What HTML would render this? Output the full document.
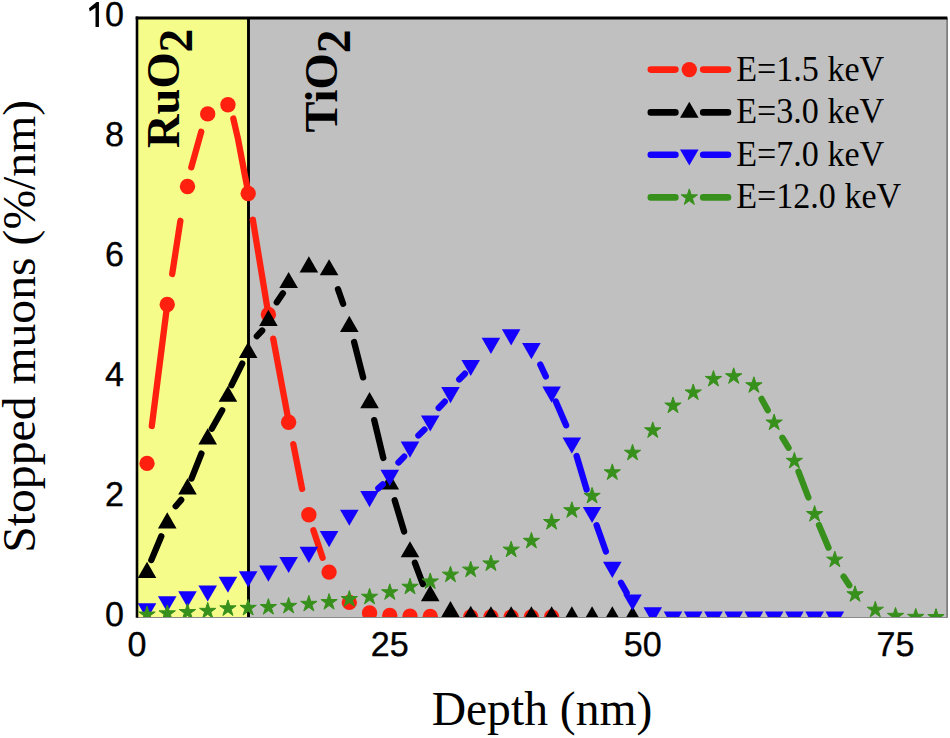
<!DOCTYPE html>
<html><head><meta charset="utf-8"><title>Stopped muons vs depth</title>
<style>
html,body{margin:0;padding:0;background:#fff;}
body{width:950px;height:738px;overflow:hidden;position:relative;font-family:"Liberation Sans",sans-serif;}
svg text{white-space:pre;}
</style></head><body>
<svg width="950" height="738" viewBox="0 0 950 738" style="position:absolute;left:0;top:0">
<defs><clipPath id="pc"><rect x="137" y="17.9" width="809.6" height="599.4"/></clipPath></defs>
<rect x="137" y="17.9" width="809.6" height="599.4" fill="#c0c0c0"/>
<rect x="137" y="17.9" width="111.4" height="599.4" fill="#f5fc8a"/>
<line x1="248.5" y1="17.9" x2="248.5" y2="617.8" stroke="#000" stroke-width="2.9"/>
<g clip-path="url(#pc)">
<path d="M151.8 426L166.8 308M172.2 274L180.4 220.8M191.3 167.3L201.2 131.8M233.3 118.5L238 138.9L244.7 174.3L247.8 190M252.8 219.6L268 312M273.2 338.7L288.4 420M293.3 444.2L302.1 488.9M313.4 530.2L322.6 557.8" fill="none" stroke="#ff2010" stroke-width="6.3" stroke-linecap="round" stroke-linejoin="round"/>
<circle cx="147.02" cy="463.4" r="7.7" fill="#ff2010"/>
<circle cx="167.25" cy="304.5" r="7.7" fill="#ff2010"/>
<circle cx="187.48" cy="186.5" r="7.7" fill="#ff2010"/>
<circle cx="207.71" cy="113.9" r="7.7" fill="#ff2010"/>
<circle cx="227.94" cy="104.7" r="7.7" fill="#ff2010"/>
<circle cx="248.17" cy="193.5" r="7.7" fill="#ff2010"/>
<circle cx="268.39" cy="314.5" r="7.7" fill="#ff2010"/>
<circle cx="288.62" cy="422.2" r="7.7" fill="#ff2010"/>
<circle cx="308.86" cy="514.7" r="7.7" fill="#ff2010"/>
<circle cx="329.09" cy="572.1" r="7.7" fill="#ff2010"/>
<circle cx="349.31" cy="602.4" r="7.7" fill="#ff2010"/>
<circle cx="369.55" cy="612.9" r="7.7" fill="#ff2010"/>
<circle cx="389.77" cy="615.4" r="7.7" fill="#ff2010"/>
<circle cx="410" cy="616.3" r="7.7" fill="#ff2010"/>
<circle cx="430.24" cy="616.5" r="7.7" fill="#ff2010"/>
<circle cx="450.47" cy="616.8" r="7.7" fill="#ff2010"/>
<circle cx="470.7" cy="617" r="7.7" fill="#ff2010"/>
<circle cx="490.93" cy="617" r="7.7" fill="#ff2010"/>
<circle cx="511.15" cy="617" r="7.7" fill="#ff2010"/>
<circle cx="531.38" cy="617" r="7.7" fill="#ff2010"/>
<circle cx="551.62" cy="617" r="7.7" fill="#ff2010"/>
<path d="M151.3 560.1L161.3 536.3M175.7 506.2L181.2 499.9M191.5 478.6L201.4 453.6M211.8 428.7L222.2 410.3M231.4 385.3L242.2 363.6M256.9 336.1L262.2 330.5M276.8 302.3L282.9 293.3M338 289.2L343.1 303.8M354.1 342L363.1 377.4M374.2 420.1L383.3 458M394.7 500.3L404.1 531.5M414.9 562.8L422.9 584.1" fill="none" stroke="#000000" stroke-width="6.3" stroke-linecap="round" stroke-linejoin="round"/>
<path d="M147.02 561.75L156.32 577.88L137.71 577.88Z" fill="#000000"/>
<path d="M167.25 512.35L176.55 528.48L157.94 528.48Z" fill="#000000"/>
<path d="M187.48 478.35L196.78 494.48L178.17 494.48Z" fill="#000000"/>
<path d="M207.71 428.35L217.01 444.48L198.4 444.48Z" fill="#000000"/>
<path d="M227.94 385.65L237.24 401.77L218.63 401.77Z" fill="#000000"/>
<path d="M248.17 341.85L257.47 357.98L238.86 357.98Z" fill="#000000"/>
<path d="M268.39 309.85L277.7 325.98L259.09 325.98Z" fill="#000000"/>
<path d="M288.62 271.95L297.93 288.07L279.32 288.07Z" fill="#000000"/>
<path d="M308.86 256.35L318.16 272.48L299.55 272.48Z" fill="#000000"/>
<path d="M329.09 259.15L338.39 275.27L319.78 275.27Z" fill="#000000"/>
<path d="M349.31 315.85L358.62 331.98L340.01 331.98Z" fill="#000000"/>
<path d="M369.55 392.05L378.85 408.18L360.24 408.18Z" fill="#000000"/>
<path d="M389.77 473.35L399.08 489.48L380.47 489.48Z" fill="#000000"/>
<path d="M410 541.15L419.31 557.27L400.7 557.27Z" fill="#000000"/>
<path d="M430.24 585.05L439.54 601.17L420.93 601.17Z" fill="#000000"/>
<path d="M450.47 601.05L459.77 617.17L441.16 617.17Z" fill="#000000"/>
<path d="M470.7 605.85L480 621.98L461.39 621.98Z" fill="#000000"/>
<path d="M490.93 606.25L500.23 622.38L481.62 622.38Z" fill="#000000"/>
<path d="M511.15 606.25L520.46 622.38L501.85 622.38Z" fill="#000000"/>
<path d="M531.38 606.25L540.69 622.38L522.08 622.38Z" fill="#000000"/>
<path d="M551.62 606.25L560.92 622.38L542.31 622.38Z" fill="#000000"/>
<path d="M571.85 606.25L581.15 622.38L562.54 622.38Z" fill="#000000"/>
<path d="M592.08 606.25L601.38 622.38L582.77 622.38Z" fill="#000000"/>
<path d="M612.31 606.25L621.61 622.38L603 622.38Z" fill="#000000"/>
<path d="M632.53 606.25L641.84 622.38L623.23 622.38Z" fill="#000000"/>
<path d="M378.3 488.4L382.8 484.3M398.5 462.5L404.2 456.6M418.4 435.5L424.5 429.6M438.7 408L444.8 401.6M459.2 379.5L464.9 373.7M540.3 364.6L545.8 376.4M555.8 401.5L566.1 425.3M576.6 456L586.6 489.5M596.6 525.2L605.9 551.5M621 582.8L626.7 592.9" fill="none" stroke="#1400ff" stroke-width="6.3" stroke-linecap="round" stroke-linejoin="round"/>
<path d="M147.02 619.35L156.32 603.23L137.71 603.23Z" fill="#1400ff"/>
<path d="M167.25 612.35L176.55 596.23L157.94 596.23Z" fill="#1400ff"/>
<path d="M187.48 607.35L196.78 591.23L178.17 591.23Z" fill="#1400ff"/>
<path d="M207.71 601.55L217.01 585.42L198.4 585.42Z" fill="#1400ff"/>
<path d="M227.94 592.85L237.24 576.73L218.63 576.73Z" fill="#1400ff"/>
<path d="M248.17 587.35L257.47 571.23L238.86 571.23Z" fill="#1400ff"/>
<path d="M268.39 581.75L277.7 565.62L259.09 565.62Z" fill="#1400ff"/>
<path d="M288.62 573.05L297.93 556.92L279.32 556.92Z" fill="#1400ff"/>
<path d="M308.86 562.95L318.16 546.83L299.55 546.83Z" fill="#1400ff"/>
<path d="M329.09 547.25L338.39 531.12L319.78 531.12Z" fill="#1400ff"/>
<path d="M349.31 525.85L358.62 509.73L340.01 509.73Z" fill="#1400ff"/>
<path d="M369.55 507.25L378.85 491.12L360.24 491.12Z" fill="#1400ff"/>
<path d="M389.77 485.95L399.08 469.82L380.47 469.82Z" fill="#1400ff"/>
<path d="M410 457.75L419.31 441.62L400.7 441.62Z" fill="#1400ff"/>
<path d="M430.24 431.55L439.54 415.43L420.93 415.43Z" fill="#1400ff"/>
<path d="M450.47 403.15L459.77 387.02L441.16 387.02Z" fill="#1400ff"/>
<path d="M470.7 376.05L480 359.93L461.39 359.93Z" fill="#1400ff"/>
<path d="M490.93 353.95L500.23 337.82L481.62 337.82Z" fill="#1400ff"/>
<path d="M511.15 345.45L520.46 329.32L501.85 329.32Z" fill="#1400ff"/>
<path d="M531.38 359.25L540.69 343.12L522.08 343.12Z" fill="#1400ff"/>
<path d="M551.62 402.65L560.92 386.52L542.31 386.52Z" fill="#1400ff"/>
<path d="M571.85 453.75L581.15 437.62L562.54 437.62Z" fill="#1400ff"/>
<path d="M592.08 523.05L601.38 506.92L582.77 506.92Z" fill="#1400ff"/>
<path d="M612.31 577.95L621.61 561.83L603 561.83Z" fill="#1400ff"/>
<path d="M632.53 610.55L641.84 594.42L623.23 594.42Z" fill="#1400ff"/>
<path d="M652.76 623.35L662.07 607.23L643.46 607.23Z" fill="#1400ff"/>
<path d="M673 627.75L682.3 611.62L663.69 611.62Z" fill="#1400ff"/>
<path d="M693.23 627.75L702.53 611.62L683.92 611.62Z" fill="#1400ff"/>
<path d="M713.46 627.75L722.76 611.62L704.15 611.62Z" fill="#1400ff"/>
<path d="M733.68 627.75L742.99 611.62L724.38 611.62Z" fill="#1400ff"/>
<path d="M753.91 627.75L763.22 611.62L744.61 611.62Z" fill="#1400ff"/>
<path d="M774.14 627.75L783.45 611.62L764.84 611.62Z" fill="#1400ff"/>
<path d="M794.38 627.75L803.68 611.62L785.07 611.62Z" fill="#1400ff"/>
<path d="M814.61 627.75L823.91 611.62L805.3 611.62Z" fill="#1400ff"/>
<path d="M834.84 627.75L844.14 611.62L825.53 611.62Z" fill="#1400ff"/>
<path d="M761.6 398.9L767.8 410.2M782.4 437.7L788.6 447.8M798.5 471.6L808.4 497.5M819 525.1L828.5 547.7M843.6 576.6L849.3 585.3" fill="none" stroke="#38901c" stroke-width="6.3" stroke-linecap="round" stroke-linejoin="round"/>
<path d="M147.02 606.1L148.95 612.04L155.19 612.04L150.14 615.72L152.07 621.66L147.02 617.99L141.96 621.66L143.89 615.72L138.84 612.04L145.08 612.04Z" fill="#38901c" stroke="#38901c" stroke-width="1" stroke-linejoin="round"/>
<path d="M167.25 604.9L169.18 610.84L175.42 610.84L170.37 614.52L172.3 620.46L167.25 616.79L162.19 620.46L164.12 614.52L159.07 610.84L165.31 610.84Z" fill="#38901c" stroke="#38901c" stroke-width="1" stroke-linejoin="round"/>
<path d="M187.48 603.6L189.41 609.54L195.65 609.54L190.6 613.22L192.53 619.16L187.48 615.49L182.42 619.16L184.35 613.22L179.3 609.54L185.54 609.54Z" fill="#38901c" stroke="#38901c" stroke-width="1" stroke-linejoin="round"/>
<path d="M207.71 602.4L209.64 608.34L215.88 608.34L210.83 612.02L212.76 617.96L207.71 614.29L202.65 617.96L204.58 612.02L199.53 608.34L205.77 608.34Z" fill="#38901c" stroke="#38901c" stroke-width="1" stroke-linejoin="round"/>
<path d="M227.94 599.9L229.87 605.84L236.11 605.84L231.06 609.52L232.99 615.46L227.94 611.79L222.88 615.46L224.81 609.52L219.76 605.84L226 605.84Z" fill="#38901c" stroke="#38901c" stroke-width="1" stroke-linejoin="round"/>
<path d="M248.17 599.4L250.1 605.34L256.34 605.34L251.29 609.02L253.22 614.96L248.17 611.29L243.11 614.96L245.04 609.02L239.99 605.34L246.23 605.34Z" fill="#38901c" stroke="#38901c" stroke-width="1" stroke-linejoin="round"/>
<path d="M268.39 598.6L270.33 604.54L276.57 604.54L271.52 608.22L273.45 614.16L268.39 610.49L263.34 614.16L265.27 608.22L260.22 604.54L266.46 604.54Z" fill="#38901c" stroke="#38901c" stroke-width="1" stroke-linejoin="round"/>
<path d="M288.62 597.4L290.56 603.34L296.8 603.34L291.75 607.02L293.68 612.96L288.62 609.29L283.57 612.96L285.5 607.02L280.45 603.34L286.69 603.34Z" fill="#38901c" stroke="#38901c" stroke-width="1" stroke-linejoin="round"/>
<path d="M308.86 595.4L310.79 601.34L317.03 601.34L311.98 605.02L313.91 610.96L308.86 607.29L303.8 610.96L305.73 605.02L300.68 601.34L306.92 601.34Z" fill="#38901c" stroke="#38901c" stroke-width="1" stroke-linejoin="round"/>
<path d="M329.09 593.6L331.02 599.54L337.26 599.54L332.21 603.22L334.14 609.16L329.09 605.49L324.03 609.16L325.96 603.22L320.91 599.54L327.15 599.54Z" fill="#38901c" stroke="#38901c" stroke-width="1" stroke-linejoin="round"/>
<path d="M349.31 590.6L351.25 596.54L357.49 596.54L352.44 600.22L354.37 606.16L349.31 602.49L344.26 606.16L346.19 600.22L341.14 596.54L347.38 596.54Z" fill="#38901c" stroke="#38901c" stroke-width="1" stroke-linejoin="round"/>
<path d="M369.55 588.3L371.48 594.24L377.72 594.24L372.67 597.92L374.6 603.86L369.55 600.19L364.49 603.86L366.42 597.92L361.37 594.24L367.61 594.24Z" fill="#38901c" stroke="#38901c" stroke-width="1" stroke-linejoin="round"/>
<path d="M389.77 583.8L391.71 589.74L397.95 589.74L392.9 593.42L394.83 599.36L389.77 595.69L384.72 599.36L386.65 593.42L381.6 589.74L387.84 589.74Z" fill="#38901c" stroke="#38901c" stroke-width="1" stroke-linejoin="round"/>
<path d="M410 578.3L411.94 584.24L418.18 584.24L413.13 587.92L415.06 593.86L410 590.19L404.95 593.86L406.88 587.92L401.83 584.24L408.07 584.24Z" fill="#38901c" stroke="#38901c" stroke-width="1" stroke-linejoin="round"/>
<path d="M430.24 573L432.17 578.94L438.41 578.94L433.36 582.62L435.29 588.56L430.24 584.89L425.18 588.56L427.11 582.62L422.06 578.94L428.3 578.94Z" fill="#38901c" stroke="#38901c" stroke-width="1" stroke-linejoin="round"/>
<path d="M450.47 566.2L452.4 572.14L458.64 572.14L453.59 575.82L455.52 581.76L450.47 578.09L445.41 581.76L447.34 575.82L442.29 572.14L448.53 572.14Z" fill="#38901c" stroke="#38901c" stroke-width="1" stroke-linejoin="round"/>
<path d="M470.7 561.2L472.63 567.14L478.87 567.14L473.82 570.82L475.75 576.76L470.7 573.09L465.64 576.76L467.57 570.82L462.52 567.14L468.76 567.14Z" fill="#38901c" stroke="#38901c" stroke-width="1" stroke-linejoin="round"/>
<path d="M490.93 555L492.86 560.94L499.1 560.94L494.05 564.62L495.98 570.56L490.93 566.89L485.87 570.56L487.8 564.62L482.75 560.94L488.99 560.94Z" fill="#38901c" stroke="#38901c" stroke-width="1" stroke-linejoin="round"/>
<path d="M511.15 541.2L513.09 547.14L519.33 547.14L514.28 550.82L516.21 556.76L511.15 553.09L506.1 556.76L508.03 550.82L502.98 547.14L509.22 547.14Z" fill="#38901c" stroke="#38901c" stroke-width="1" stroke-linejoin="round"/>
<path d="M531.38 532.4L533.32 538.34L539.56 538.34L534.51 542.02L536.44 547.96L531.38 544.29L526.33 547.96L528.26 542.02L523.21 538.34L529.45 538.34Z" fill="#38901c" stroke="#38901c" stroke-width="1" stroke-linejoin="round"/>
<path d="M551.62 513.6L553.55 519.54L559.79 519.54L554.74 523.22L556.67 529.16L551.62 525.49L546.56 529.16L548.49 523.22L543.44 519.54L549.68 519.54Z" fill="#38901c" stroke="#38901c" stroke-width="1" stroke-linejoin="round"/>
<path d="M571.85 501.8L573.78 507.74L580.02 507.74L574.97 511.42L576.9 517.36L571.85 513.69L566.79 517.36L568.72 511.42L563.67 507.74L569.91 507.74Z" fill="#38901c" stroke="#38901c" stroke-width="1" stroke-linejoin="round"/>
<path d="M592.08 487.4L594.01 493.34L600.25 493.34L595.2 497.02L597.13 502.96L592.08 499.29L587.02 502.96L588.95 497.02L583.9 493.34L590.14 493.34Z" fill="#38901c" stroke="#38901c" stroke-width="1" stroke-linejoin="round"/>
<path d="M612.31 463.9L614.24 469.84L620.48 469.84L615.43 473.52L617.36 479.46L612.31 475.79L607.25 479.46L609.18 473.52L604.13 469.84L610.37 469.84Z" fill="#38901c" stroke="#38901c" stroke-width="1" stroke-linejoin="round"/>
<path d="M632.53 444.3L634.47 450.24L640.71 450.24L635.66 453.92L637.59 459.86L632.53 456.19L627.48 459.86L629.41 453.92L624.36 450.24L630.6 450.24Z" fill="#38901c" stroke="#38901c" stroke-width="1" stroke-linejoin="round"/>
<path d="M652.76 421.9L654.7 427.84L660.94 427.84L655.89 431.52L657.82 437.46L652.76 433.79L647.71 437.46L649.64 431.52L644.59 427.84L650.83 427.84Z" fill="#38901c" stroke="#38901c" stroke-width="1" stroke-linejoin="round"/>
<path d="M673 397.1L674.93 403.04L681.17 403.04L676.12 406.72L678.05 412.66L673 408.99L667.94 412.66L669.87 406.72L664.82 403.04L671.06 403.04Z" fill="#38901c" stroke="#38901c" stroke-width="1" stroke-linejoin="round"/>
<path d="M693.23 384L695.16 389.94L701.4 389.94L696.35 393.62L698.28 399.56L693.23 395.89L688.17 399.56L690.1 393.62L685.05 389.94L691.29 389.94Z" fill="#38901c" stroke="#38901c" stroke-width="1" stroke-linejoin="round"/>
<path d="M713.46 370.5L715.39 376.44L721.63 376.44L716.58 380.12L718.51 386.06L713.46 382.39L708.4 386.06L710.33 380.12L705.28 376.44L711.52 376.44Z" fill="#38901c" stroke="#38901c" stroke-width="1" stroke-linejoin="round"/>
<path d="M733.68 367.8L735.62 373.74L741.86 373.74L736.81 377.42L738.74 383.36L733.68 379.69L728.63 383.36L730.56 377.42L725.51 373.74L731.75 373.74Z" fill="#38901c" stroke="#38901c" stroke-width="1" stroke-linejoin="round"/>
<path d="M753.91 376.8L755.85 382.74L762.09 382.74L757.04 386.42L758.97 392.36L753.91 388.69L748.86 392.36L750.79 386.42L745.74 382.74L751.98 382.74Z" fill="#38901c" stroke="#38901c" stroke-width="1" stroke-linejoin="round"/>
<path d="M774.14 414.1L776.08 420.04L782.32 420.04L777.27 423.72L779.2 429.66L774.14 425.99L769.09 429.66L771.02 423.72L765.97 420.04L772.21 420.04Z" fill="#38901c" stroke="#38901c" stroke-width="1" stroke-linejoin="round"/>
<path d="M794.38 452.4L796.31 458.34L802.55 458.34L797.5 462.02L799.43 467.96L794.38 464.29L789.32 467.96L791.25 462.02L786.2 458.34L792.44 458.34Z" fill="#38901c" stroke="#38901c" stroke-width="1" stroke-linejoin="round"/>
<path d="M814.61 505.6L816.54 511.54L822.78 511.54L817.73 515.22L819.66 521.16L814.61 517.49L809.55 521.16L811.48 515.22L806.43 511.54L812.67 511.54Z" fill="#38901c" stroke="#38901c" stroke-width="1" stroke-linejoin="round"/>
<path d="M834.84 551.2L836.77 557.14L843.01 557.14L837.96 560.82L839.89 566.76L834.84 563.09L829.78 566.76L831.71 560.82L826.66 557.14L832.9 557.14Z" fill="#38901c" stroke="#38901c" stroke-width="1" stroke-linejoin="round"/>
<path d="M855.06 585.8L857 591.74L863.24 591.74L858.19 595.42L860.12 601.36L855.06 597.69L850.01 601.36L851.94 595.42L846.89 591.74L853.13 591.74Z" fill="#38901c" stroke="#38901c" stroke-width="1" stroke-linejoin="round"/>
<path d="M875.29 601.3L877.23 607.24L883.47 607.24L878.42 610.92L880.35 616.86L875.29 613.19L870.24 616.86L872.17 610.92L867.12 607.24L873.36 607.24Z" fill="#38901c" stroke="#38901c" stroke-width="1" stroke-linejoin="round"/>
<path d="M895.52 607.4L897.46 613.34L903.7 613.34L898.65 617.02L900.58 622.96L895.52 619.29L890.47 622.96L892.4 617.02L887.35 613.34L893.59 613.34Z" fill="#38901c" stroke="#38901c" stroke-width="1" stroke-linejoin="round"/>
<path d="M915.75 608.4L917.69 614.34L923.93 614.34L918.88 618.02L920.81 623.96L915.75 620.29L910.7 623.96L912.63 618.02L907.58 614.34L913.82 614.34Z" fill="#38901c" stroke="#38901c" stroke-width="1" stroke-linejoin="round"/>
<path d="M935.99 608.6L937.92 614.54L944.16 614.54L939.11 618.22L941.04 624.16L935.99 620.49L930.93 624.16L932.86 618.22L927.81 614.54L934.05 614.54Z" fill="#38901c" stroke="#38901c" stroke-width="1" stroke-linejoin="round"/>
</g>
<line x1="137" y1="617.5" x2="947.1" y2="617.5" stroke="#8a8a8a" stroke-width="1.2"/>
<line x1="947.1" y1="17.9" x2="947.1" y2="617.8" stroke="#666" stroke-width="1.5"/>
<line x1="137" y1="16.5" x2="137" y2="617.8" stroke="#000" stroke-width="2.6"/>
<line x1="135.7" y1="17.9" x2="947.4" y2="17.9" stroke="#000" stroke-width="3"/>
<path d="M650.8 69.6L675.4 69.6M703.2 69.6L728 69.6" stroke="#ff2010" stroke-width="6.6" stroke-linecap="round" fill="none"/>
<circle cx="689.3" cy="69.6" r="7.7" fill="#ff2010"/>
<path d="M650.8 112.4L675.4 112.4M703.2 112.4L728 112.4" stroke="#000000" stroke-width="6.6" stroke-linecap="round" fill="none"/>
<path d="M689.3 101.65L698.61 117.78L679.99 117.78Z" fill="#000000"/>
<path d="M650.8 154.8L675.4 154.8M703.2 154.8L728 154.8" stroke="#1400ff" stroke-width="6.6" stroke-linecap="round" fill="none"/>
<path d="M689.3 165.55L698.61 149.43L679.99 149.43Z" fill="#1400ff"/>
<path d="M650.8 197.4L675.4 197.4M703.2 197.4L728 197.4" stroke="#38901c" stroke-width="6.6" stroke-linecap="round" fill="none"/>
<path d="M689.3 188.9L691.23 194.84L697.48 194.84L692.42 198.52L694.35 204.46L689.3 200.79L684.25 204.46L686.18 198.52L681.12 194.84L687.37 194.84Z" fill="#38901c" stroke="#38901c" stroke-width="1" stroke-linejoin="round"/>
<text transform="translate(736.2,80.6) scale(1,1.06)" font-family="Liberation Serif" font-size="34.1" fill="#000">E=1.5 keV</text>
<text transform="translate(736.2,123.4) scale(1,1.06)" font-family="Liberation Serif" font-size="34.1" fill="#000">E=3.0 keV</text>
<text transform="translate(736.2,165.8) scale(1,1.06)" font-family="Liberation Serif" font-size="34.1" fill="#000">E=7.0 keV</text>
<text transform="translate(736.2,208.4) scale(1,1.06)" font-family="Liberation Serif" font-size="34.1" fill="#000">E=12.0 keV</text>
<text transform="translate(124,26.1) scale(1,1.01)" text-anchor="end" font-family="Liberation Sans" font-size="34.1" fill="#000" stroke="#000" stroke-width="0.35" style="text-rendering:geometricPrecision">0</text>
<path d="M98.95 2.1L98.95 26.95L95.5 26.95L95.5 7.7L89.7 11.4L89.0 8.3L96.6 2.1Z" fill="#000"/>
<text transform="translate(124,146.1) scale(1,1.01)" text-anchor="end" font-family="Liberation Sans" font-size="34.1" fill="#000" stroke="#000" stroke-width="0.35" style="text-rendering:geometricPrecision">8</text>
<text transform="translate(124,266.1) scale(1,1.01)" text-anchor="end" font-family="Liberation Sans" font-size="34.1" fill="#000" stroke="#000" stroke-width="0.35" style="text-rendering:geometricPrecision">6</text>
<text transform="translate(124,386.1) scale(1,1.01)" text-anchor="end" font-family="Liberation Sans" font-size="34.1" fill="#000" stroke="#000" stroke-width="0.35" style="text-rendering:geometricPrecision">4</text>
<text transform="translate(124,506.1) scale(1,1.01)" text-anchor="end" font-family="Liberation Sans" font-size="34.1" fill="#000" stroke="#000" stroke-width="0.35" style="text-rendering:geometricPrecision">2</text>
<text transform="translate(124,626.1) scale(1,1.01)" text-anchor="end" font-family="Liberation Sans" font-size="34.1" fill="#000" stroke="#000" stroke-width="0.35" style="text-rendering:geometricPrecision">0</text>
<text transform="translate(136.9,655.6) scale(1,1.01)" text-anchor="middle" font-family="Liberation Sans" font-size="34.1" fill="#000" stroke="#000" stroke-width="0.35" style="text-rendering:geometricPrecision">0</text>
<text transform="translate(389.77,655.6) scale(1,1.01)" text-anchor="middle" font-family="Liberation Sans" font-size="34.1" fill="#000" stroke="#000" stroke-width="0.35" style="text-rendering:geometricPrecision">25</text>
<text transform="translate(642.65,655.6) scale(1,1.01)" text-anchor="middle" font-family="Liberation Sans" font-size="34.1" fill="#000" stroke="#000" stroke-width="0.35" style="text-rendering:geometricPrecision">50</text>
<text transform="translate(895.52,655.6) scale(1,1.01)" text-anchor="middle" font-family="Liberation Sans" font-size="34.1" fill="#000" stroke="#000" stroke-width="0.35" style="text-rendering:geometricPrecision">75</text>
<text x="542" y="725.3" text-anchor="middle" font-family="Liberation Serif" font-size="47.6" fill="#000">Depth (nm)</text>
<text transform="translate(35.3,552.8) rotate(-90) scale(1,0.985)" font-family="Liberation Serif" font-size="47.7" fill="#000">Stopped muons (%/nm)</text>
<text transform="translate(178.8,148) rotate(-90)" font-family="Liberation Serif" font-weight="bold" font-size="46.5" fill="#000">RuO<tspan dy="13.5" font-size="47.5">2</tspan></text>
<text transform="translate(336.9,132.6) rotate(-90)" font-family="Liberation Serif" font-weight="bold" font-size="46.5" fill="#000">TiO<tspan dy="13.5" font-size="47.5">2</tspan></text>
</svg>
</body></html>
